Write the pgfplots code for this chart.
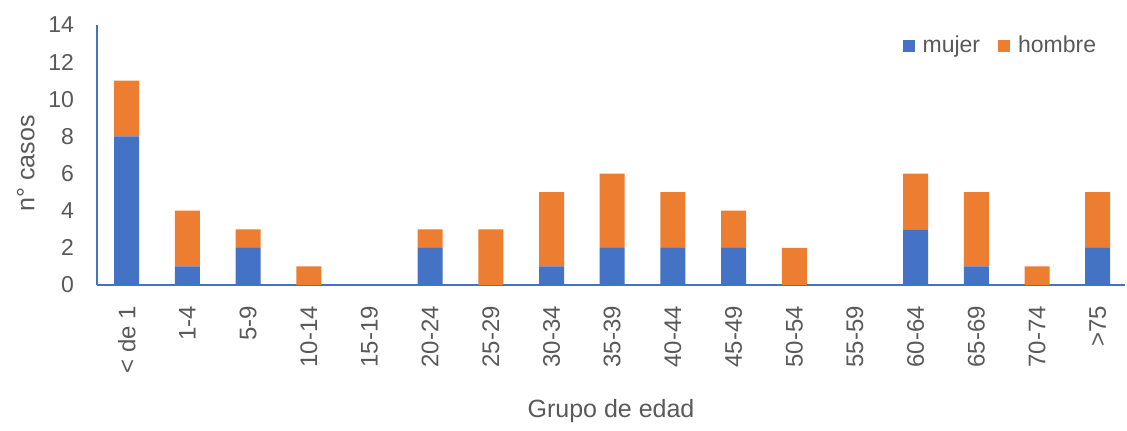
\documentclass[border=0pt]{standalone}
\usepackage{fontspec}
\setmainfont{Liberation Sans}
\usepackage{pgfplots}
\usepackage{pgfplotstable}
\pgfplotsset{compat=1.18}
\definecolor{mblue}{HTML}{4472C4}
\definecolor{morange}{HTML}{ED7D31}
\definecolor{tgray}{HTML}{595959}
\pgfplotstableread{
x mujer hombre
0 8 3
1 1 3
2 2 1
3 0 1
4 0 0
5 2 1
6 0 3
7 1 4
8 2 4
9 2 3
10 2 2
11 0 2
12 0 0
13 3 3
14 1 4
15 0 1
16 2 3
}\datatab
\begin{document}
\begin{tikzpicture}
\path[use as bounding box] (0,0) rectangle (563.5pt,215.5pt);
\begin{axis}[
  at={(48.5pt,73pt)}, anchor=south west,
  scale only axis, width=514pt, height=130pt,
  ybar stacked, bar width=12.5pt,
  xmin=-0.49, xmax=16.45, ymin=0, ymax=14,
  ytick={0,2,...,14},
  xtick=data,
  xticklabels={< de 1,1-4,5-9,10-14,15-19,20-24,25-29,30-34,35-39,40-44,45-49,50-54,55-59,60-64,65-69,70-74,>75},
  x tick label style={rotate=90, anchor=east, font=\fontsize{12}{14}\selectfont, text=tgray},
  y tick label style={font=\fontsize{11.5}{13}\selectfont, text=tgray},
  /pgf/number format/assume math mode=true,
  major tick length=0pt,
  axis x line=bottom, axis y line=left,
  axis line style={-, mblue, line width=0.8pt},
  xticklabel shift=7pt,
  yticklabel shift=8pt,
  ylabel={n° casos}, xlabel={Grupo de edad},
  label style={font=\fontsize{12.5}{14}\selectfont, text=tgray},
  every axis y label/.append style={at={(ticklabel cs:0.46)}},
  ylabel style={xshift=1pt},
  xlabel style={yshift=-6pt},
  legend style={at={(0.982,0.919)}, anchor=east, draw=none, fill=none,
    font=\fontsize{11.5}{13}\selectfont, text=tgray, legend columns=2,
    /tikz/every even column/.append style={column sep=7pt}},
  legend image code/.code={\fill[#1] (0pt,-3pt) rectangle (6pt,3pt);},
]
\addplot[fill=mblue, draw=none] table[x=x,y=mujer] {\datatab};
\addlegendentry{\hspace{2pt}mujer}
\addplot[fill=morange, draw=none] table[x=x,y=hombre] {\datatab};
\addlegendentry{\hspace{2pt}hombre}
\end{axis}
\end{tikzpicture}
\end{document}
